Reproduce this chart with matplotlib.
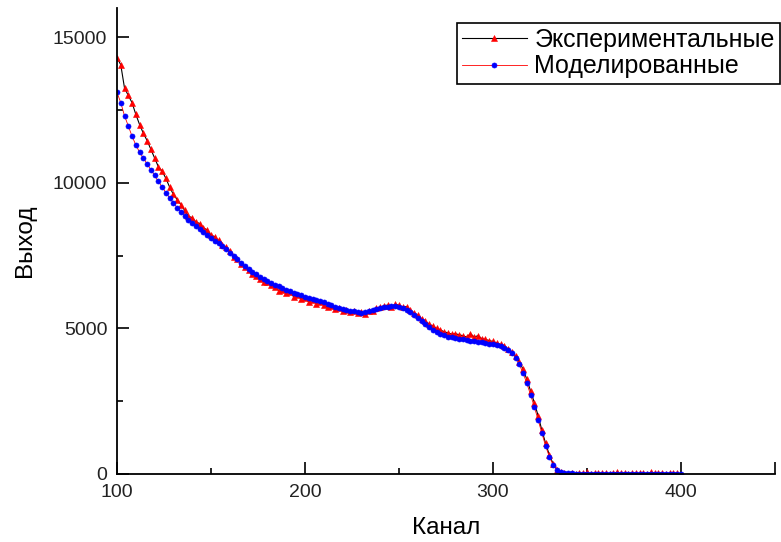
import matplotlib
matplotlib.use('Agg')
import matplotlib.pyplot as plt
from matplotlib.ticker import MultipleLocator

# Каналы (шаг 2)
exp_channels = list(range(100, 400, 2))
mod_channels = list(range(100, 402, 2))

# Экспериментальные значения выхода
exp_values = [
    14300, 14050, 13250, 13000, 12750, 12350, 12000, 11700, 11450, 11150,  # 100-118
    10850, 10550, 10400, 10150, 9850, 9600, 9420, 9250, 9050, 8850,        # 120-138
    8800, 8650, 8600, 8450, 8380, 8200, 8150, 8020, 7850, 7800,            # 140-158
    7650, 7450, 7380, 7220, 7100, 7000, 6850, 6800, 6700, 6600,            # 160-178
    6580, 6480, 6420, 6300, 6320, 6200, 6250, 6080, 6150, 6000,            # 180-198
    6050, 5900, 5980, 5850, 5900, 5800, 5720, 5780, 5650, 5700,            # 200-218
    5600, 5640, 5550, 5580, 5520, 5560, 5480, 5600, 5580, 5700,            # 220-238
    5720, 5780, 5800, 5750, 5820, 5800, 5720, 5750, 5620, 5540,            # 240-258
    5450, 5330, 5250, 5150, 5080, 5000, 4950, 4880, 4850, 4800,            # 260-278
    4820, 4780, 4750, 4700, 4820, 4700, 4750, 4650, 4620, 4580,            # 280-298
    4550, 4500, 4450, 4400, 4300, 4200, 4050, 3850, 3600, 3250,            # 300-318
    2850, 2450, 2000, 1500, 1050, 650, 350, 150, 60, 20,                   # 320-338
    10, 30, 10, 40, 20, 60, 10, 30, 50, 20,                                # 340-358
    40, 10, 30, 60, 20, 40, 10, 50, 30, 20,                                # 360-378
    40, 10, 60, 30, 20, 50, 10, 30, 40, 20,                                # 380-398
]

# Моделированные значения выхода
mod_values = [
    13100, 12750, 12300, 11950, 11600, 11300, 11050, 10850, 10650, 10450,  # 100-118
    10250, 10050, 9850, 9660, 9480, 9310, 9150, 9000, 8860, 8730,          # 120-138
    8620, 8520, 8420, 8320, 8210, 8110, 8010, 7920, 7820, 7710,            # 140-158
    7600, 7480, 7370, 7260, 7150, 7050, 6950, 6860, 6770, 6690,            # 160-178
    6620, 6560, 6500, 6440, 6380, 6330, 6280, 6230, 6180, 6130,            # 180-198
    6080, 6040, 6000, 5970, 5940, 5890, 5840, 5790, 5750, 5710,            # 200-218
    5670, 5640, 5610, 5580, 5560, 5540, 5550, 5580, 5620, 5660,            # 220-238
    5700, 5730, 5750, 5760, 5760, 5740, 5700, 5640, 5560, 5460,            # 240-258
    5350, 5240, 5140, 5040, 4960, 4890, 4820, 4770, 4720, 4690,            # 260-278
    4660, 4640, 4620, 4600, 4580, 4560, 4540, 4520, 4500, 4480,            # 280-298
    4450, 4420, 4380, 4330, 4250, 4150, 3990, 3760, 3470, 3110,            # 300-318
    2720, 2300, 1860, 1400, 960, 590, 310, 140, 60, 30,                    # 320-338
    20, 18, 16, 15, 15, 14, 14, 13, 13, 12,                                # 340-358
    12, 12, 11, 11, 11, 10, 10, 10, 10, 10,                                # 360-378
    10, 10, 10, 10, 10, 10, 10, 10, 10, 10, 10,                            # 380-400
]

plt.rcParams['font.family'] = ['Liberation Sans', 'DejaVu Sans']

fig = plt.figure(figsize=(7.81, 5.42), dpi=100)
ax = fig.add_axes([117 / 781, 1 - 474 / 542, (775 - 117) / 781, (474 - 8) / 542])

ax.plot(exp_channels, exp_values, color='black', linewidth=0.8,
        marker='^', markersize=4.6, markerfacecolor='red',
        markeredgecolor='red', markeredgewidth=0.4, label='Экспериментальные')
ax.plot(mod_channels, mod_values, color='red', linewidth=0.6,
        marker='o', markersize=3.6, markerfacecolor='blue',
        markeredgecolor='blue', markeredgewidth=0.5, label='Моделированные')

ax.set_xlim(100, 450)
ax.set_ylim(0, 16000)

ax.spines['top'].set_visible(False)
ax.spines['right'].set_visible(False)
ax.spines['left'].set_linewidth(1.3)
ax.spines['bottom'].set_linewidth(1.3)

ax.xaxis.set_minor_locator(MultipleLocator(50))
ax.yaxis.set_major_locator(MultipleLocator(5000))
ax.yaxis.set_minor_locator(MultipleLocator(2500))
ax.set_xticks([100, 200, 300, 400, 450], ['100', '200', '300', '400', ''])
ax.tick_params(which='major', direction='in', length=8.5, width=1.2,
               labelsize=14, labelcolor='#222222', pad=7)
ax.tick_params(which='minor', direction='in', length=4.3, width=1.2)

ax.set_xlabel('Канал', fontsize=17.5, labelpad=12)
ax.set_ylabel('Выход', fontsize=17.5, labelpad=12)

leg = ax.legend(loc='upper left', bbox_to_anchor=(457 / 781, 1 - 23 / 542),
                bbox_transform=fig.transFigure, borderaxespad=0,
                fontsize=18, frameon=True, fancybox=False, framealpha=1,
                borderpad=0.2, handlelength=2.6, handletextpad=0.3,
                labelspacing=0.1)
leg.get_frame().set_edgecolor('black')
leg.get_frame().set_linewidth(1.2)

plt.savefig('out.png', dpi=100)
plt.close()
